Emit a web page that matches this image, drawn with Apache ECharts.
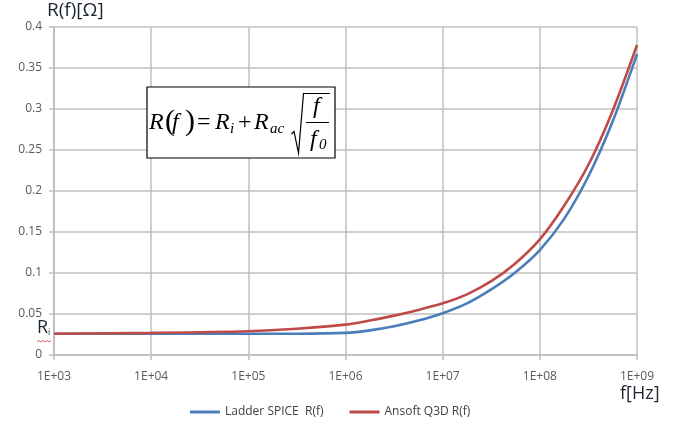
<!DOCTYPE html>
<html><head><meta charset="utf-8">
<script src="https://cdn.jsdelivr.net/npm/echarts@6/dist/echarts.min.js"></script>
<style>html,body{margin:0;padding:0;background:#fff}#c{width:688px;height:429px}</style>
</head><body><div id="c"></div>
<script>
// frequencies in Hz (read at quarter-decade spots from the picture)
var freqs = [1e3, 1e4, 1e5, 316228, 1e6, 1778279, 3162278, 5623413, 1e7, 17782794, 31622777, 56234133, 1e8, 177827941, 316227766, 562341325, 1e9];
var ladderSpice = [0.026, 0.026, 0.026, 0.026, 0.027, 0.030, 0.035, 0.042, 0.051, 0.063, 0.080, 0.101, 0.128, 0.166, 0.218, 0.285, 0.367];
var ansoftQ3D  = [0.026, 0.027, 0.029, 0.032, 0.037, 0.042, 0.048, 0.055, 0.063, 0.074, 0.090, 0.112, 0.141, 0.182, 0.232, 0.298, 0.378];
var seriesNames = ['Ladder SPICE  R(f)', 'Ansoft Q3D R(f)'];
var yTicks = [0, 0.05, 0.1, 0.15, 0.2, 0.25, 0.3, 0.35, 0.4];

function pairs(vals){ return freqs.map(function(f,i){ return [f, vals[i]]; }); }

var chart = echarts.init(document.getElementById('c'), null, {renderer:'canvas'});
var labelFont = {fontFamily:'Open Sans', fontSize:12, color:'#595959'};
var gridColor = '#bfbfbf';

function mt(txt, x, y, size, italic){
  return {type:'text', x:x, y:y, z:11, style:{text:txt, verticalAlign:'middle',
    fontFamily:'Liberation Serif', fontStyle:italic?'italic':'normal', fontSize:size, fill:'#000'}};
}

chart.setOption({
  animation:false,
  backgroundColor:'#fff',
  grid:{left:54, right:51, top:27, bottom:74, containLabel:false},
  legend:{
    data:seriesNames, bottom:6, left:185,
    icon:'rect', itemWidth:30, itemHeight:3, itemGap:26,
    textStyle:{fontFamily:'Open Sans', fontSize:12, color:'#404040'}
  },
  xAxis:{
    type:'log', logBase:10, min:1e3, max:1e9,
    axisLine:{show:true, lineStyle:{color:gridColor, width:1.5}},
    axisTick:{show:true, length:5, lineStyle:{color:gridColor, width:1.5}},
    minorTick:{show:false},
    splitLine:{show:true, lineStyle:{color:gridColor, width:1.5}},
    axisLabel:Object.assign({margin:16, formatter:function(v){
      var e = Math.round(Math.log10(v));
      return '1E+' + (e<10?'0':'') + e;
    }}, labelFont)
  },
  yAxis:{
    type:'value', min:0, max:0.4, interval:0.05,
    axisLine:{show:true, lineStyle:{color:gridColor, width:1.5}},
    axisTick:{show:true, length:5, lineStyle:{color:gridColor, width:1.5}},
    splitLine:{show:true, lineStyle:{color:gridColor, width:1.5}},
    axisLabel:Object.assign({margin:12, formatter:function(v){
      var s = yTicks.filter(function(t){return Math.abs(t-v)<1e-9;});
      return s.length ? String(+v.toFixed(2)) : '';
    }}, labelFont)
  },
  series:[
    {name:seriesNames[0], type:'line', data:pairs(ladderSpice), smooth:0.3,
     showSymbol:false, lineStyle:{color:'#4a7ebb', width:2.6}, itemStyle:{color:'#4a7ebb'}, z:2},
    {name:seriesNames[1], type:'line', data:pairs(ansoftQ3D), smooth:0.3,
     showSymbol:false, lineStyle:{color:'#be4b48', width:2.6}, itemStyle:{color:'#be4b48'}, z:3}
  ],
  graphic:[
    {type:'text', left:47, top:1, style:{text:'R(f)[Ω]', fontFamily:'Open Sans', fontSize:19, fill:'#1c2530'}},
    {type:'text', left:620, top:385, style:{text:'f[Hz]', fontFamily:'Open Sans', fontSize:18, fill:'#1c2530'}},
    // R_i marker label
    {type:'text', left:37, top:319, style:{text:'{r|R}{s|i}', rich:{
      r:{fontFamily:'Open Sans', fontSize:18, fill:'#1c2530'},
      s:{fontFamily:'Open Sans', fontSize:9, fill:'#1c2530', padding:[9,0,0,0]}
    }}},
    {type:'polyline', shape:{points:[[37,342],[39,340.5],[41,342],[43,340.5],[45,342],[47,340.5],[49,342],[51,340.5]]},
     style:{stroke:'#e03030', lineWidth:0.8, fill:null}},
    // formula box
    {type:'rect', shape:{x:147, y:87, width:188, height:71}, style:{fill:'#fff', stroke:'#000', lineWidth:1.2}, z:10},
    mt('R', 149, 123, 24, true),
    mt('(', 165, 122, 30, false),
    mt('f', 172, 123, 24, true),
    mt(')', 185, 122, 30, false),
    mt('=', 197, 123, 24, false),
    mt('R', 215, 123, 24, true),
    mt('i', 230, 129, 15, true),
    mt('+', 238, 123, 24, false),
    mt('R', 254, 123, 24, true),
    mt('ac', 270, 129, 15, true),
    {type:'polyline', z:11, shape:{points:[[291.5,134],[294,131.5],[298.5,153],[303.5,93.5],[330,93.5]]},
     style:{stroke:'#000', lineWidth:1.2, fill:null}},
    {type:'line', z:11, shape:{x1:306, y1:122.5, x2:329, y2:122.5}, style:{stroke:'#000', lineWidth:1}},
    mt('f', 313, 107, 24, true),
    mt('f', 310, 140, 24, true),
    mt('0', 319, 145, 15, true)
  ]
});
</script></body></html>
